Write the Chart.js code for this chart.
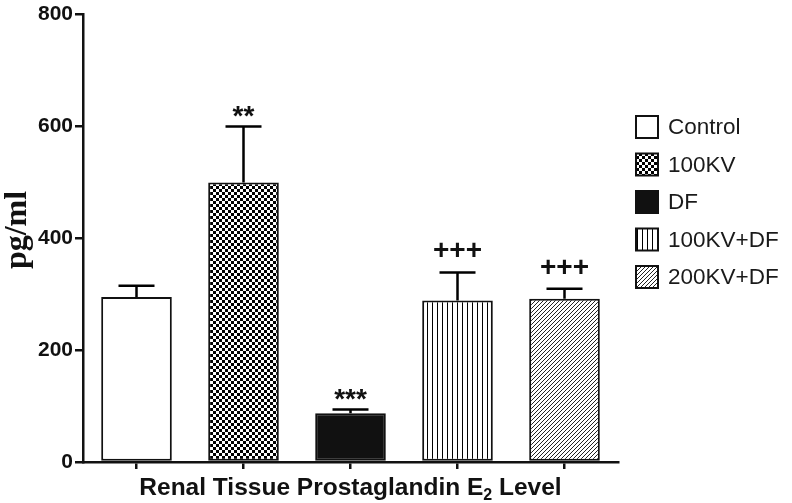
<!DOCTYPE html>
<html>
<head>
<meta charset="utf-8">
<script src="https://cdn.jsdelivr.net/npm/chart.js@4.4.0/dist/chart.umd.min.js"></script>
<style>
  html, body { margin: 0; padding: 0; background: #fff; }
</style>
</head>
<body>
<canvas id="barChart" width="792" height="503"></canvas>
<script>
const groups = ['Control', '100KV', 'DF', '100KV+DF', '200KV+DF'];
const means = [295, 500, 87, 289, 292];
const errors = [20, 100, 7, 50, 18];
const marks = ['', '**', '***', '+++', '+++'];
const yTicks = [0, 200, 400, 600, 800];

// fill patterns for the bars
function makePattern(kind) {
    const c = document.createElement('canvas');
    const g = c.getContext('2d');
    if (kind === 'checker') {
        c.width = 6; c.height = 6;
        g.fillStyle = '#fff'; g.fillRect(0, 0, 6, 6);
        g.fillStyle = '#000';
        g.fillRect(0, 0, 3, 3); g.fillRect(3, 3, 3, 3);
    } else if (kind === 'vert') {
        c.width = 5; c.height = 5;
        g.fillStyle = '#fff'; g.fillRect(0, 0, 5, 5);
        g.fillStyle = '#000'; g.fillRect(2, 0, 1, 5);
    } else if (kind === 'diag') {
        c.width = 4; c.height = 4;
        g.fillStyle = '#fff'; g.fillRect(0, 0, 4, 4);
        g.fillStyle = '#222';
        for (let i = 0; i < 4; i++) g.fillRect(i, 3 - i, 1, 1);
    }
    return g.createPattern(c, 'repeat');
}

const fills = ['#ffffff', makePattern('checker'), '#111111', makePattern('vert'), makePattern('diag')];

const extras = {
    id: 'extras',
    afterDatasetsDraw(chart) {
        const ctx = chart.ctx;
        const y = chart.scales.y;
        const meta = chart.getDatasetMeta(0);
        const area = chart.chartArea;
        ctx.save();
        ctx.strokeStyle = '#000';
        ctx.lineWidth = 2.5;
        ctx.fillStyle = '#111';
        meta.data.forEach((bar, i) => {
            const yb = y.getPixelForValue(means[i]);
            const yt = y.getPixelForValue(means[i] + errors[i]);
            ctx.beginPath();
            ctx.moveTo(bar.x, yb);
            ctx.lineTo(bar.x, yt);
            ctx.moveTo(bar.x - 18, yt);
            ctx.lineTo(bar.x + 18, yt);
            ctx.stroke();
            if (marks[i]) {
                ctx.textAlign = 'center';
                ctx.textBaseline = 'alphabetic';
                ctx.font = 'bold 28px "Liberation Sans"';
                if (marks[i][0] === '*') {
                    ctx.fillText(marks[i], bar.x, yt - 1);
                } else {
                    ctx.fillText(marks[i], bar.x, yt - 13);
                }
            }
        });

        // x axis title with subscript
        ctx.fillStyle = '#111';
        ctx.textAlign = 'left';
        ctx.textBaseline = 'alphabetic';
        const big = 'bold 24.5px "Liberation Sans"';
        const small = 'bold 16px "Liberation Sans"';
        const p1 = 'Renal Tissue Prostaglandin E', p2 = '2', p3 = ' Level';
        ctx.font = big;
        const w1 = ctx.measureText(p1).width, w3 = ctx.measureText(p3).width;
        ctx.font = small;
        const w2 = ctx.measureText(p2).width;
        let tx = (area.left + area.right) / 2 - (w1 + w2 + w3) / 2;
        const ty = 495;
        ctx.font = big; ctx.fillText(p1, tx, ty); tx += w1;
        ctx.font = small; ctx.fillText(p2, tx, ty + 5); tx += w2;
        ctx.font = big; ctx.fillText(p3, tx, ty);

        // y axis title
        ctx.save();
        ctx.translate(18, 230);
        ctx.rotate(-Math.PI / 2);
        ctx.textAlign = 'center';
        ctx.textBaseline = 'middle';
        ctx.font = 'bold 32px "Liberation Serif"';
        ctx.fillText('pg/ml', 0, 0);
        ctx.restore();

        // legend
        groups.forEach((name, i) => {
            const ry = 127 + i * 37.5;
            ctx.fillStyle = fills[i];
            ctx.fillRect(636, ry - 11, 22, 22);
            ctx.lineWidth = 2;
            ctx.strokeStyle = '#111';
            ctx.strokeRect(636, ry - 11, 22, 22);
            ctx.fillStyle = '#1a1a1a';
            ctx.font = '22.5px "Liberation Sans"';
            ctx.textAlign = 'left';
            ctx.textBaseline = 'middle';
            ctx.fillText(name, 668, ry + 1);
        });
        ctx.restore();
    }
};

new Chart(document.getElementById('barChart').getContext('2d'), {
    type: 'bar',
    data: {
        labels: groups,
        datasets: [{
            label: 'pg/ml',
            data: means,
            backgroundColor: fills,
            borderColor: '#111',
            borderWidth: 2,
            borderSkipped: false,
            categoryPercentage: 1,
            barPercentage: 0.66
        }]
    },
    options: {
        responsive: false,
        devicePixelRatio: 1,
        animation: false,
        layout: { padding: { top: 11, right: 174, left: 0, bottom: 0 } },
        plugins: {
            legend: { display: false },
            tooltip: { enabled: false }
        },
        scales: {
            x: {
                offset: true,
                grid: { offset: false, drawOnChartArea: false, drawTicks: true, tickLength: 7, color: '#111', lineWidth: 2.5 },
                border: { color: '#111', width: 2.5 },
                ticks: { display: false },
                afterFit: s => { s.height = 41; }
            },
            y: {
                min: 0,
                max: 800,
                afterBuildTicks: s => { s.ticks = yTicks.map(v => ({ value: v })); },
                ticks: {
                    color: '#111',
                    padding: 2,
                    font: { family: 'Liberation Sans', size: 21, weight: 'bold' }
                },
                grid: { drawOnChartArea: false, tickLength: 8, color: '#111', lineWidth: 2.5 },
                border: { color: '#111', width: 2.5 },
                afterFit: s => { s.width = 83; }
            }
        }
    },
    plugins: [extras]
});
</script>
</body>
</html>
